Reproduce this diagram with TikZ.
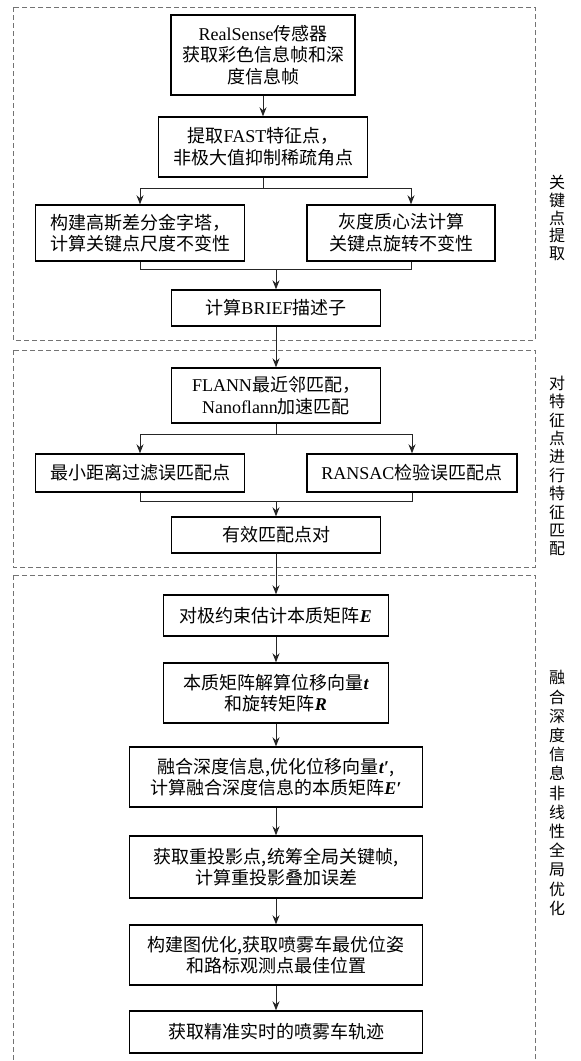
\documentclass[tikz,border=0pt]{standalone}
\usepackage{fontspec}
\setmainfont{Noto Sans CJK SC}
\newfontfamily\lat{Liberation Serif}
\usetikzlibrary{arrows.meta}
\newcommand\mv[1]{{\lat\bfseries\itshape #1}}
\begin{document}
\begin{tikzpicture}[x=1pt,y=-1pt,
  box/.style={draw=black, line width=1.4pt, align=center, inner sep=0pt, font=\fontsize{18}{21.7}\selectfont},
  frame/.style={draw=black!55, line width=0.9pt, dash pattern=on 5pt off 3pt},
  arr/.style={draw=black!85, line width=0.9pt, -{Stealth[length=9pt,width=7pt]}},
  ln/.style={draw=black!85, line width=0.9pt},
  side/.style={align=center, inner sep=0pt}]
\useasboundingbox (0,0) rectangle (581,1061);
\clip (0,0) rectangle (581,1061);
\fill[white] (0,0) rectangle (581,1061);
% frames
\draw[frame] (13,7) rectangle (535,340);
\draw[frame] (13,350) rectangle (535,567);
\draw[frame] (13,575) rectangle (535,1080);
% side labels
\node[side, font=\fontsize{16}{17.8}\selectfont] (L1) at (557,218) {关\\键\\点\\提\\取};
\node[side, font=\fontsize{16}{18.4}\selectfont] (L2) at (557,466) {对\\特\\征\\点\\进\\行\\特\\征\\匹\\配};
\node[side, font=\fontsize{16}{19.2}\selectfont] (L3) at (557,793) {融\\合\\深\\度\\信\\息\\非\\线\\性\\全\\局\\优\\化};
% section 1
\node[box, minimum width=184pt, minimum height=80pt] (n1) at (263,55) {{\lat RealSense}传感器\\获取彩色信息帧和深\\度信息帧};
\node[box, minimum width=209pt, minimum height=60pt] (n2) at (263,147) {提取{\lat FAST}特征点，\\非极大值抑制稀疏角点};
\node[box, minimum width=209pt, minimum height=56pt] (n3) at (140,233) {构建高斯差分金字塔，\\计算关键点尺度不变性};
\node[box, minimum width=188pt, minimum height=56pt] (n4) at (401,233) {灰度质心法计算\\关键点旋转不变性};
\node[box, minimum width=209pt, minimum height=36pt] (n5) at (276,308) {计算{\lat BRIEF}描述子};
% section 2
\node[box, minimum width=209pt, minimum height=55pt] (n6) at (276,395.5) {{\lat FLANN}最近邻匹配，\\{\lat Nanoflann}加速匹配};
\node[box, minimum width=209pt, minimum height=38pt] (n7) at (140,473) {最小距离过滤误匹配点};
\node[box, minimum width=210pt, minimum height=38pt] (n8) at (412,473) {{\lat RANSAC}检验误匹配点};
\node[box, minimum width=209pt, minimum height=36pt] (n9) at (276,535) {有效匹配点对};
% section 3
\node[box, minimum width=225pt, minimum height=41pt] (n10) at (276,615.5) {对极约束估计本质矩阵\mv{E}};
\node[box, minimum width=225pt, minimum height=60pt] (n11) at (276,693) {本质矩阵解算位移向量\mv{t}\\和旋转矩阵\mv{R}};
\node[box, minimum width=293pt, minimum height=60pt] (n12) at (276,777) {融合深度信息,优化位移向量\mv{t′},\\计算融合深度信息的本质矩阵\mv{E′}};
\node[box, minimum width=293pt, minimum height=62pt] (n13) at (276,867) {获取重投影点,统筹全局关键帧,\\计算重投影叠加误差};
\node[box, minimum width=293pt, minimum height=60pt] (n14) at (276,955) {构建图优化,获取喷雾车最优位姿\\和路标观测点最佳位置};
\node[box, minimum width=293pt, minimum height=42pt] (n15) at (276,1032) {获取精准实时的喷雾车轨迹};
% connectors section 1
\coordinate (s1) at (263,188);
\coordinate (m1) at (276,269);
\draw[arr] (n1.south) -- (n2.north);
\draw[ln] (n2.south) -- (s1);
\draw[arr] (s1) -| (n3.north);
\draw[arr] (s1) -| ([xshift=10pt]n4.north);
\draw[ln] (n3.south) |- (m1);
\draw[ln] ([xshift=10pt]n4.south) |- (m1);
\draw[arr] (m1) -- (n5.north);
\draw[arr] (n5.south) -- (n6.north);
% section 2
\coordinate (s2) at (276,434);
\coordinate (m2) at (276,501);
\draw[ln] (n6.south) -- (s2);
\draw[arr] (s2) -| (n7.north);
\draw[arr] (s2) -| (n8.north);
\draw[ln] (n7.south) |- (m2);
\draw[ln] (n8.south) |- (m2);
\draw[arr] (m2) -- (n9.north);
\draw[arr] (n9.south) -- (n10.north);
% section 3
\draw[arr] (n10.south) -- (n11.north);
\draw[arr] (n11.south) -- (n12.north);
\draw[arr] (n12.south) -- (n13.north);
\draw[arr] (n13.south) -- (n14.north);
\draw[arr] (n14.south) -- (n15.north);
\end{tikzpicture}
\end{document}
